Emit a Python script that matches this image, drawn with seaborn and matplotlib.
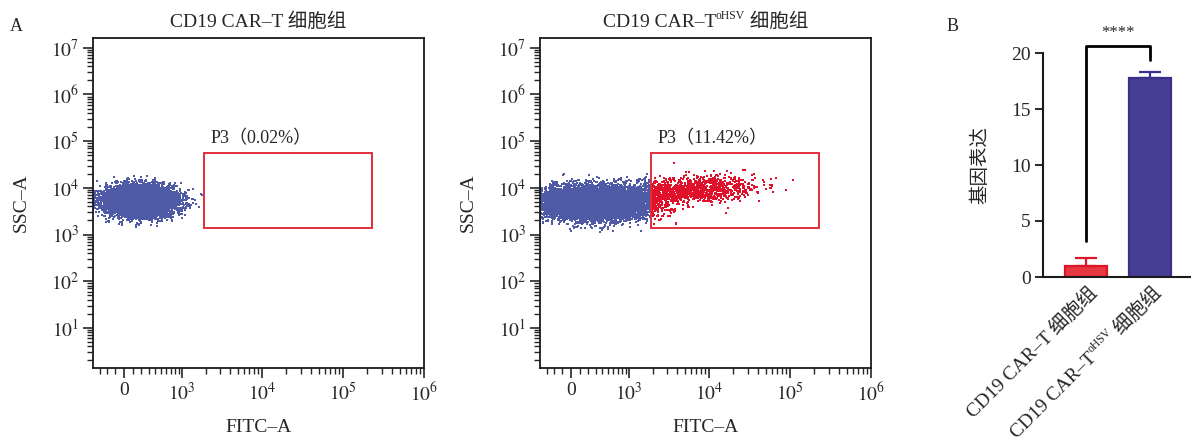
import numpy as np
import pandas as pd
import seaborn as sns
import matplotlib.pyplot as plt
from matplotlib.patches import Rectangle
from matplotlib.ticker import FixedLocator, LogLocator, NullFormatter
from matplotlib.transforms import offset_copy

# ---- values ----
# flow panels (A)
flow_titles = [
    [("CD19 CAR–T 细胞组", False)],
    [("CD19 CAR–T", False), ("oHSV", True), (" 细胞组", False)],
]
gate_name = "P3"
gate_pct = ["0.02%", "11.42%"]
gate_fitc = [1.9e3, 2.3e5]
gate_ssc = [1.4e3, 5.6e4]

# the dot clouds can only be read as shapes: centre / spread per population,
# fitc in decades of the display axis, ssc in log10 units
neg_n = [10000, 10000]
neg_fitc_mu = [0.20, 0.30]
neg_fitc_sd = [0.20, 0.33]
neg_ssc_mu = [3.72, 3.68]
neg_ssc_sd = [0.15, 0.17]
pos_n = [0, 1200]
pos_fitc_mu = [1.45, 1.45]
pos_fitc_sd = [0.42, 0.42]
pos_ssc_mu = [3.95, 3.95]
pos_ssc_sd = [0.14, 0.14]
pos_ssc_slope = [0.12, 0.12]

# bar panel (B)
bar_groups = [
    [("CD19 CAR–T 细胞组", False)],
    [("CD19 CAR–T", False), ("oHSV", True), (" 细胞组", False)],
]
bar_keys = ["car_t", "car_t_ohsv"]
expr_mean = [1.0, 17.8]
expr_err = [0.7, 0.5]
sig_label = "****"

blue_dot = "#4f5ba7"
red_dot = "#e0122b"
bar_fill = ["#e8383f", "#463e95"]
bar_edge = ["#dc1529", "#3a2f8a"]

sns.set_style("ticks")
plt.rcParams["font.family"] = ["Liberation Serif", "Noto Sans CJK SC"]
plt.rcParams["mathtext.fontset"] = "stix"
plt.rcParams["axes.edgecolor"] = "#1a1a1a"

W = 199.0


def fwd(x):
    return np.arcsinh(np.asarray(x, dtype=float) / (2 * W)) / np.log(10)


def inv(u):
    return 2 * W * np.sinh(np.asarray(u, dtype=float) * np.log(10))


XMIN = float(inv(-0.383))

fig = plt.figure(figsize=(11.91, 4.41), dpi=100)
renderer = fig.canvas.get_renderer()


def rich_text(ax, x, y, parts, size, transform, rotation=0, ha="center", dx=0, dy=0):
    # lays out text pieces one after another, small raised pieces for superscripts
    widths = []
    for s, sup in parts:
        t = ax.text(0, 0, s, fontsize=size * 0.6 if sup else size)
        widths.append(t.get_window_extent(renderer).width * 72 / fig.dpi)
        t.remove()
    total = sum(widths)
    pos = {"left": 0, "center": -total / 2, "right": -total}[ha]
    th = np.deg2rad(rotation)
    ux, uy = np.cos(th), np.sin(th)
    nx, ny = -uy, ux
    for (s, sup), w in zip(parts, widths):
        rise = size * 0.42 if sup else 0
        tr = offset_copy(transform, fig=fig, x=dx + pos * ux + rise * nx,
                         y=dy + pos * uy + rise * ny, units="points")
        ax.text(x, y, s, transform=tr, fontsize=size * 0.6 if sup else size,
                rotation=rotation, rotation_mode="anchor", ha="left",
                va="baseline", clip_on=False)
        pos += w


rng = np.random.default_rng(11)
flow_left = [93 / 1191, 540 / 1191]

for i in range(2):
    ax = fig.add_axes([flow_left[i], 1 - 368 / 441, 331 / 1191, 330 / 441])

    u = rng.normal(neg_fitc_mu[i], neg_fitc_sd[i], neg_n[i])
    ly = rng.normal(neg_ssc_mu[i], neg_ssc_sd[i], neg_n[i])
    if pos_n[i]:
        up = rng.normal(pos_fitc_mu[i], pos_fitc_sd[i], pos_n[i])
        lyp = pos_ssc_mu[i] + pos_ssc_slope[i] * (up - pos_fitc_mu[i]) \
            + rng.normal(0, pos_ssc_sd[i], pos_n[i])
        u = np.concatenate([u, up])
        ly = np.concatenate([ly, lyp])
    u = np.clip(u, fwd(XMIN) + 0.004, None)
    df = pd.DataFrame({"fitc": inv(u), "ssc": 10 ** ly})
    inside = (df.fitc >= gate_fitc[0]) & (df.fitc <= gate_fitc[1]) & \
             (df.ssc >= gate_ssc[0]) & (df.ssc <= gate_ssc[1])
    df["gate"] = np.where(inside, "in", "out")
    df = df.sort_values("gate", ascending=False)

    sns.scatterplot(data=df, x="fitc", y="ssc", hue="gate",
                    palette={"out": blue_dot, "in": red_dot},
                    s=2.2, marker="s", linewidth=0, legend=False, ax=ax)

    ax.set_xscale("function", functions=(fwd, inv))
    ax.set_yscale("log")
    ax.set_xlim(XMIN, 1e6)
    ax.set_ylim(10 ** 0.14, 10 ** 7.21)

    ax.set_yticks([10.0 ** k for k in range(1, 8)],
                  labels=[f"$10^{{{k}}}$" for k in range(1, 8)])
    ax.yaxis.set_minor_locator(LogLocator(base=10, subs=np.arange(2, 10), numticks=30))
    ax.yaxis.set_minor_formatter(NullFormatter())
    ax.set_xticks([0, 1e3, 1e4, 1e5, 1e6],
                  labels=["0", "$10^{3}$", "$10^{4}$", "$10^{5}$", "$10^{6}$"])
    xminor = [-300, -200, -100] + list(range(100, 1000, 100))
    for d in [1e3, 1e4, 1e5]:
        xminor += [m * d for m in range(2, 10)]
    ax.xaxis.set_minor_locator(FixedLocator(xminor))
    ax.xaxis.set_minor_formatter(NullFormatter())
    ax.tick_params(which="major", length=7, width=1.2, labelsize=14, pad=3)
    ax.tick_params(which="minor", length=4, width=1.0)
    for sp in ax.spines.values():
        sp.set_linewidth(1.3)

    ax.set_xlabel("FITC–A", fontsize=14)
    ax.set_ylabel("SSC–A", fontsize=14)
    ax.xaxis.set_label_coords(0.5, -0.155)
    ax.yaxis.set_label_coords(-0.19, 0.5)

    ax.add_patch(Rectangle((gate_fitc[0], gate_ssc[0]), gate_fitc[1] - gate_fitc[0],
                           gate_ssc[1] - gate_ssc[0], fill=False,
                           edgecolor="#e0303c", linewidth=1.4, zorder=3))
    ax.annotate(f"{gate_name}（{gate_pct[i]}）", xy=(gate_fitc[0], gate_ssc[1]),
                xytext=(5, 4), textcoords="offset points", fontsize=13,
                ha="left", va="bottom")

    rich_text(ax, 0.5, 1.0, flow_titles[i], 14, ax.transAxes, ha="center", dy=8)

# ---- bar panel ----
ax3 = fig.add_axes([1043 / 1191, 1 - 277 / 441, 148 / 1191, 224 / 441])
sns.barplot(x=bar_keys, y=expr_mean, hue=bar_keys, palette=bar_fill,
            width=0.66, errorbar=None, legend=False, saturation=1, ax=ax3)
for p, ec in zip(ax3.patches, bar_edge):
    p.set_edgecolor(ec)
    p.set_linewidth(1.6)
for k in range(2):
    ax3.errorbar(k, expr_mean[k], yerr=[[0], [expr_err[k]]], color=bar_edge[k],
                 capsize=8, elinewidth=1.6, capthick=1.6, fmt="none", zorder=1)

ax3.set_xlim(-0.67, 1.64)
ax3.set_ylim(0, 20)
ax3.set_yticks([0, 5, 10, 15, 20])
ax3.tick_params(axis="y", length=6, width=1.4, labelsize=14, pad=3)
ax3.tick_params(axis="x", length=0)
ax3.set_xticks([0, 1], labels=["", ""])
sns.despine(ax=ax3)
ax3.spines["left"].set_linewidth(1.5)
ax3.spines["bottom"].set_linewidth(1.5)
ax3.set_ylabel("基因表达", fontsize=14)
ax3.yaxis.set_label_coords(-0.36, 0.5)

top = max(m + e for m, e in zip(expr_mean, expr_err))
ax3.plot([0, 0, 1, 1],
         [expr_mean[0] + expr_err[0] + 1.5, top + 2.3, top + 2.3, expr_mean[1] + expr_err[1] + 1.1],
         color="black", linewidth=2, clip_on=False)
ax3.text(0.5, top + 3.5, sig_label, ha="center", va="center", fontsize=12, clip_on=False)

for k in range(2):
    rich_text(ax3, k, 0, bar_groups[k], 14, ax3.get_xaxis_transform(),
              rotation=45, ha="right", dx=9, dy=-12)

fig.text(10 / 1191, 1 - 31 / 441, "A", fontsize=13)
fig.text(947 / 1191, 1 - 31 / 441, "B", fontsize=13)

fig.savefig("out.png", dpi=100)
